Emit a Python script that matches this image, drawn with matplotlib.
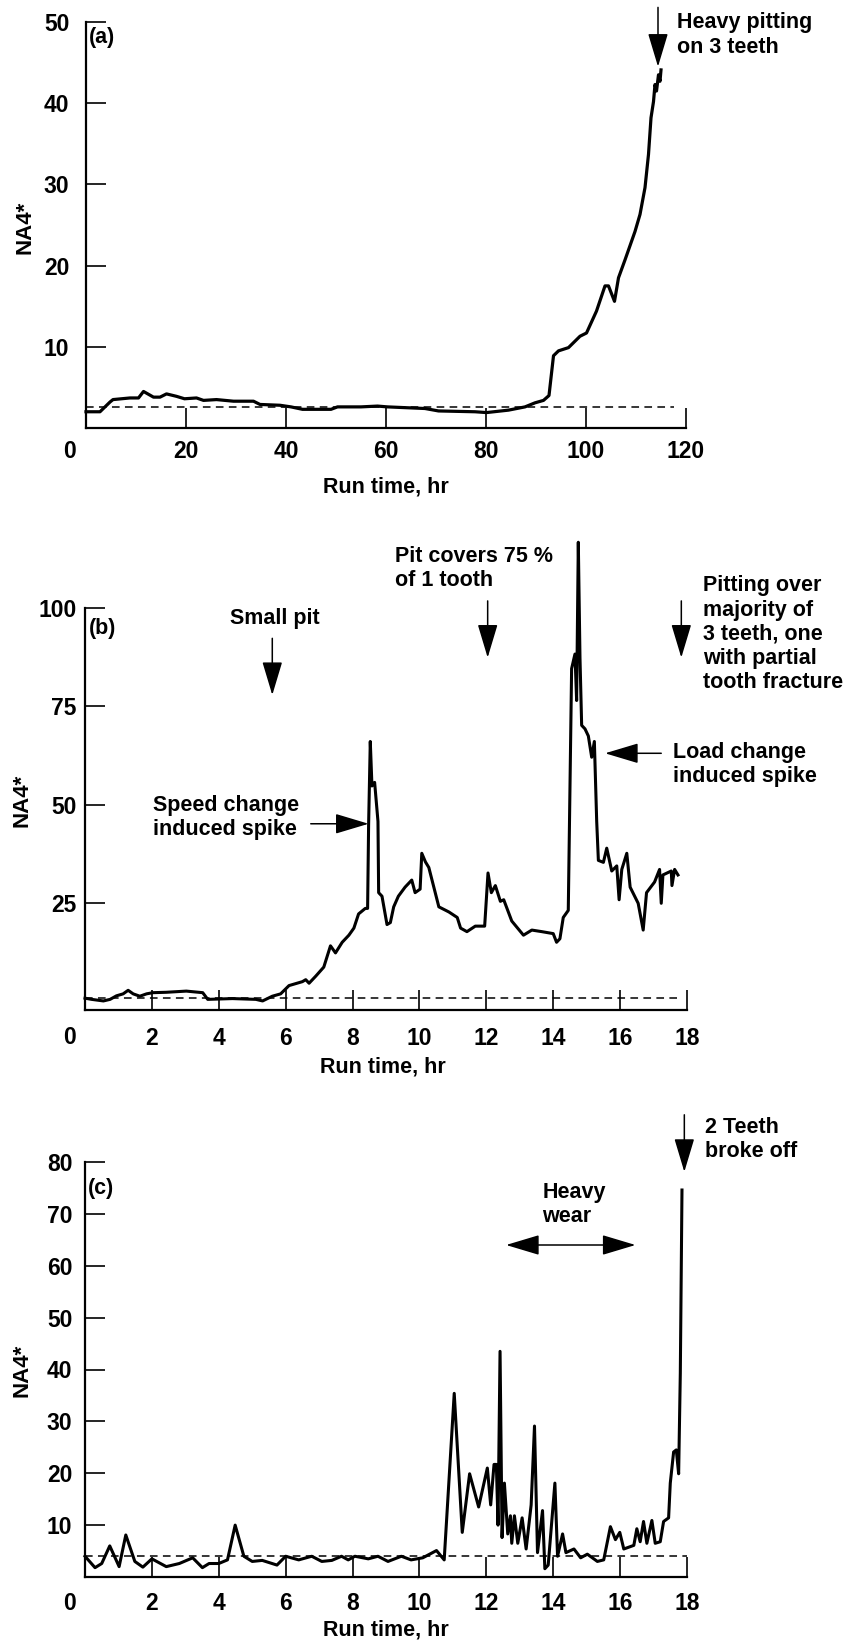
import matplotlib
matplotlib.use("Agg")
import matplotlib.pyplot as plt

plt.rcParams['font.family'] = ['Liberation Sans', 'DejaVu Sans']
plt.rcParams['font.weight'] = 'bold'

# ---- panel (a): 120 hr run ----
a_time = [0, 2.8, 4.8, 5.4, 8.8, 10.5, 11.5, 13.5, 14.8, 16.1, 18.1, 19.7, 22.1, 23.5,
          26.1, 29.5, 33.5, 34.8, 38.8, 41.0, 43.3, 49.0, 50.3, 55.0, 58.3, 60.3, 67.8,
          70.5, 77.8, 80.1, 84.5, 87.8, 89.8, 91.5, 92.6, 93.5, 94.5, 96.5, 98.8, 100.1,
          102.1, 103.8, 104.5, 105.7, 106.5, 107.8, 109.8, 110.8, 111.8, 112.5, 113.0,
          113.5, 113.8, 114.1, 114.5, 114.8, 115.0]
a_na4 = [2.0, 2.0, 3.2, 3.5, 3.7, 3.7, 4.5, 3.8, 3.8, 4.2, 3.9, 3.6, 3.7, 3.4, 3.5, 3.3,
         3.3, 2.9, 2.8, 2.6, 2.3, 2.3, 2.6, 2.6, 2.7, 2.6, 2.4, 2.1, 2.0, 1.9, 2.2, 2.6,
         3.1, 3.4, 4.0, 8.9, 9.5, 9.9, 11.3, 11.7, 14.4, 17.5, 17.5, 15.6, 18.5, 20.7,
         24.2, 26.3, 29.6, 33.7, 38.2, 40.2, 42.3, 41.5, 43.5, 42.7, 44.1]
a_base = 2.6
a_xticks = [0, 20, 40, 60, 80, 100, 120]
a_yticks = [10, 20, 30, 40, 50]

# ---- panel (b): 18 hr run ----
b_time = [0, 0.2, 0.55, 0.75, 0.94, 1.14, 1.29, 1.44, 1.64, 1.84, 2.03, 2.43, 3.03, 3.52,
          3.67, 4.41, 5.11, 5.31, 5.6, 5.85, 6.1, 6.5, 6.6, 6.7, 6.9, 7.14, 7.34, 7.49,
          7.69, 7.89, 8.04, 8.18, 8.38, 8.45, 8.48, 8.53, 8.58, 8.66, 8.76, 8.78, 8.88,
          9.03, 9.13, 9.23, 9.37, 9.57, 9.77, 9.87, 10.02, 10.07, 10.18, 10.28, 10.58,
          10.88, 11.13, 11.23, 11.42, 11.67, 11.95, 12.05, 12.15, 12.27, 12.42, 12.52,
          12.76, 13.11, 13.36, 13.66, 14.0, 14.1, 14.2, 14.3, 14.45, 14.55, 14.65, 14.70,
          14.75, 14.8, 14.85, 14.95, 15.05, 15.15, 15.23, 15.3, 15.35, 15.5, 15.6, 15.75,
          15.9, 15.97, 16.05, 16.2, 16.3, 16.54, 16.69, 16.79, 17.03, 17.18, 17.23, 17.28,
          17.53, 17.55, 17.63, 17.73]
b_na4 = [0.9, 0.6, 0.2, 0.6, 1.5, 2.0, 2.9, 2.0, 1.4, 2.0, 2.3, 2.4, 2.7, 2.3, 0.6, 0.8,
         0.6, 0.2, 1.4, 2.0, 4.1, 5.1, 5.6, 4.7, 6.5, 8.8, 14.2, 12.4, 15.1, 16.9, 18.7,
         22.3, 23.7, 23.7, 44.9, 66.1, 54.8, 55.7, 45.8, 27.7, 26.8, 19.6, 20.1, 24.1,
         26.8, 29.1, 30.9, 27.7, 28.6, 37.7, 35.5, 34.1, 24.1, 22.8, 21.4, 18.7, 17.8,
         19.2, 19.2, 32.7, 27.7, 29.5, 25.5, 25.9, 20.5, 16.9, 18.2, 17.8, 17.3, 15.1,
         16.0, 21.4, 23.2, 84.6, 88.3, 76.5, 116.7, 87.4, 70.2, 69.3, 67.5, 62.1, 66.1,
         45.8, 35.9, 35.4, 39.0, 33.2, 34.5, 25.9, 33.6, 37.7, 29.1, 25.0, 18.2, 27.7,
         30.4, 33.6, 25.0, 32.2, 33.2, 29.5, 33.6, 32.2]
b_base = 0.9
b_xticks = [0, 2, 4, 6, 8, 10, 12, 14, 16, 18]
b_yticks = [25, 50, 75, 100]

# ---- panel (c): 18 hr run ----
c_time = [0, 0.3, 0.5, 0.74, 1.02, 1.22, 1.49, 1.73, 2.0, 2.43, 2.82, 3.22, 3.51, 3.71,
          4.0, 4.26, 4.49, 4.75, 5.0, 5.3, 5.74, 6.0, 6.39, 6.78, 7.08, 7.38, 7.67, 7.87,
          8.07, 8.47, 8.76, 9.06, 9.46, 9.75, 10.1, 10.51, 10.74, 11.04, 11.28, 11.5,
          11.77, 12.03, 12.13, 12.23, 12.3, 12.35, 12.41, 12.47, 12.54, 12.64, 12.72,
          12.76, 12.84, 12.94, 13.07, 13.19, 13.34, 13.44, 13.53, 13.68, 13.75, 13.85,
          14.05, 14.13, 14.28, 14.38, 14.62, 14.82, 15.02, 15.32, 15.51, 15.71, 15.86,
          15.99, 16.11, 16.41, 16.5, 16.6, 16.7, 16.8, 16.95, 17.05, 17.2, 17.3, 17.45,
          17.5, 17.6, 17.68, 17.75, 17.8, 17.85]
c_na4 = [4.0, 1.8, 2.6, 6.0, 2.0, 8.1, 3.0, 1.9, 3.5, 2.0, 2.6, 3.7, 1.8, 2.6, 2.6, 3.3,
         10.0, 4.0, 3.0, 3.2, 2.3, 4.0, 3.3, 4.0, 3.0, 3.2, 4.0, 3.3, 4.0, 3.5, 4.0, 3.0,
         4.0, 3.3, 3.7, 5.1, 3.3, 35.4, 8.6, 19.9, 13.5, 21.0, 13.9, 21.7, 21.7, 10.0,
         43.5, 7.6, 18.1, 8.3, 11.8, 6.5, 11.8, 6.5, 11.4, 5.4, 13.9, 29.1, 4.7, 12.8,
         1.6, 2.3, 18.1, 4.0, 8.3, 4.7, 5.4, 3.7, 4.4, 3.0, 3.3, 9.7, 7.2, 8.6, 5.4, 6.1,
         9.3, 6.8, 10.7, 6.5, 10.9, 6.5, 6.8, 10.7, 11.4, 18.1, 24.1, 24.5, 19.9, 39.3,
         74.6]
c_base = 4.0
c_xticks = [0, 2, 4, 6, 8, 10, 12, 14, 16, 18]
c_yticks = [10, 20, 30, 40, 50, 60, 70, 80]

W, H = 850, 1646
FS = 15.5      # annotation / axis label size
TFS = 16.5     # tick label size


def px_rect(left, top, right, bottom):
    return [left / W, 1 - bottom / H, (right - left) / W, (bottom - top) / H]


def fig_text(fig, x, y, s, size=FS, **kw):
    fig.text(x / W, 1 - y / H, s, fontsize=size, fontweight='bold', **kw)


def style_axis(ax, xticks, yticks, xpad, ypad):
    for side in ['top', 'right']:
        ax.spines[side].set_visible(False)
    for side in ['left', 'bottom']:
        ax.spines[side].set_linewidth(1.6)
    ax.set_xticks(xticks)
    ax.set_xticklabels([''] + [str(t) for t in xticks[1:]])
    ax.set_yticks(yticks)
    ax.set_yticklabels([str(t) for t in yticks])
    ax.tick_params(axis='both', direction='in', length=14.5, width=1.2, labelsize=TFS)
    ax.tick_params(axis='x', pad=xpad)
    ax.tick_params(axis='y', pad=ypad)
    for lab in ax.get_xticklabels() + ax.get_yticklabels():
        lab.set_fontweight('bold')


def arrow(ax, tail, tip, style='-|>'):
    ax.annotate('', xy=tip, xytext=tail, annotation_clip=False,
                arrowprops=dict(arrowstyle=style + ',head_length=1.5,head_width=0.45',
                                mutation_scale=14, lw=1.1, color='black',
                                shrinkA=0, shrinkB=0))


def label(ax, x, y, s, ha='left'):
    ax.text(x, y, s, fontsize=FS, fontweight='bold', ha=ha, va='center',
            multialignment='left', linespacing=1.2, clip_on=False)


fig = plt.figure(figsize=(W / 100, H / 100), dpi=100)

# panel (a)
ax1 = fig.add_axes(px_rect(86, 22, 686, 428))
ax1.plot(a_time, a_na4, color='black', lw=2.3, clip_on=False)
ax1.plot([0, 117.5], [a_base, a_base], color='black', lw=1.1, dashes=(5, 3.5))
ax1.set_xlim(0, 120)
ax1.set_ylim(0, 50)
style_axis(ax1, a_xticks, a_yticks, xpad=8.5, ypad=12)
ax1.text(0.027, 0.962, '(a)', transform=ax1.transAxes, fontsize=FS,
         fontweight='bold', ha='center', va='center')
label(ax1, 118.2, 48.4, 'Heavy pitting\non 3 teeth')
arrow(ax1, (114.4, 51.8), (114.4, 44.5))
fig_text(fig, 386, 487, 'Run time, hr', ha='center', va='center')
fig_text(fig, 25, 227, 'NA4*', size=16, ha='center', va='center', rotation=90)
fig_text(fig, 70, 451, '0', size=TFS, ha='center', va='center')

# panel (b)
ax2 = fig.add_axes(px_rect(85, 608, 687, 1010))
ax2.plot(b_time, b_na4, color='black', lw=2.2, clip_on=False)
ax2.plot([0, 17.7], [b_base, b_base], color='black', lw=1.1, dashes=(5, 3.5))
ax2.set_xlim(0, 18)
ax2.set_ylim(-2.1, 100)
style_axis(ax2, b_xticks, b_yticks, xpad=12, ypad=6)
ax2.text(0.030, 0.95, '(b)', transform=ax2.transAxes, fontsize=FS,
         fontweight='bold', ha='center', va='center')
label(ax2, 5.67, 97.3, 'Small pit', ha='center')
arrow(ax2, (5.6, 92.3), (5.6, 77.9))
label(ax2, 2.03, 46.7, 'Speed change\ninduced spike')
arrow(ax2, (6.75, 45.2), (8.48, 45.2))
label(ax2, 9.28, 110.0, 'Pit covers 75 %\nof 1 tooth')
arrow(ax2, (12.04, 101.8), (12.04, 87.4))
label(ax2, 18.47, 93.3, 'Pitting over\nmajority of\n3 teeth, one\nwith partial\ntooth fracture')
arrow(ax2, (17.83, 101.8), (17.83, 87.4))
label(ax2, 17.58, 60.2, 'Load change\ninduced spike')
arrow(ax2, (17.23, 63.1), (15.55, 63.1))
fig_text(fig, 383, 1067, 'Run time, hr', ha='center', va='center')
fig_text(fig, 22, 800, 'NA4*', size=16, ha='center', va='center', rotation=90)
fig_text(fig, 70, 1038, '0', size=TFS, ha='center', va='center')

# panel (c)
ax3 = fig.add_axes(px_rect(85, 1162, 687, 1577))
ax3.plot(c_time, c_na4, color='black', lw=2.2, clip_on=False)
ax3.plot([0, 18], [c_base, c_base], color='black', lw=1.1, dashes=(5, 3.5))
ax3.set_xlim(0, 18)
ax3.set_ylim(0, 80)
style_axis(ax3, c_xticks, c_yticks, xpad=11, ypad=9)
ax3.text(0.027, 0.937, '(c)', transform=ax3.transAxes, fontsize=FS,
         fontweight='bold', ha='center', va='center')
label(ax3, 18.55, 84.3, '2 Teeth\nbroke off')
arrow(ax3, (17.92, 89.1), (17.92, 78.1))
label(ax3, 13.68, 71.85, 'Heavy\nwear')
arrow(ax3, (12.59, 64.0), (16.46, 64.0), style='<|-|>')
fig_text(fig, 386, 1630, 'Run time, hr', ha='center', va='center')
fig_text(fig, 22, 1370, 'NA4*', size=16, ha='center', va='center', rotation=90)
fig_text(fig, 70, 1603, '0', size=TFS, ha='center', va='center')

fig.savefig('out.png', dpi=100)
